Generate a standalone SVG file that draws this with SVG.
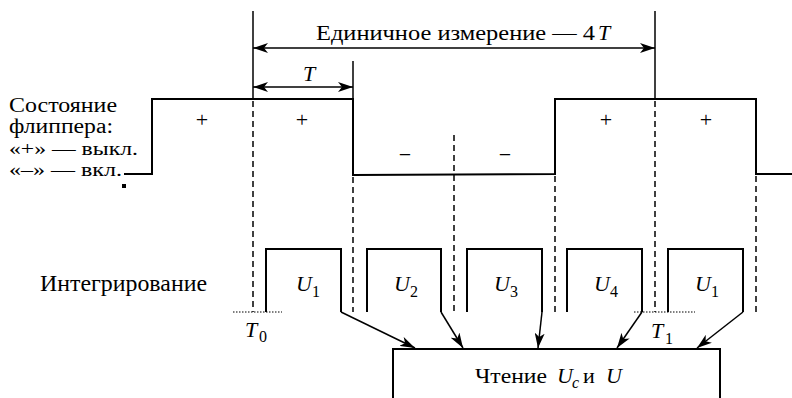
<svg xmlns="http://www.w3.org/2000/svg" width="792" height="398" viewBox="0 0 792 398">
  <style>
    text { font-family: "Liberation Serif", "Times New Roman", serif; fill: #000; }
    .it { font-style: italic; }
    .wave { fill: none; stroke: #000; stroke-width: 2; }
    .solid { fill: none; stroke: #000; stroke-width: 1.5; }
    .dash { fill: none; stroke: #000; stroke-width: 1.5; stroke-dasharray: 6 4; }
    .dot { fill: none; stroke: #000; stroke-width: 1.2; stroke-dasharray: 1.5 1.5; }
    .pulse { fill: none; stroke: #000; stroke-width: 2; }
    .conn { fill: none; stroke: #000; stroke-width: 1.5; }
  </style>
  <defs>
    <marker id="ah" viewBox="0 0 15 10" refX="15" refY="5" markerWidth="15" markerHeight="10" markerUnits="userSpaceOnUse" orient="auto-start-reverse">
      <path d="M0,0 L15,5 L0,10 L4,5 Z" fill="#000"/>
    </marker>
  </defs>
  <rect width="792" height="398" fill="#fff"/>

  <!-- flipper state waveform -->
  <g id="flipper">
    <polyline class="wave" points="124,174 152,174 152,99 353,99 353,175 555,174 555,99 756,99 756,174 792,174"/>
    <text x="202" y="127" font-size="22" text-anchor="middle">+</text>
    <text x="302" y="127" font-size="22" text-anchor="middle">+</text>
    <text x="405" y="162" font-size="22" text-anchor="middle">−</text>
    <text x="505" y="162" font-size="22" text-anchor="middle">−</text>
    <text x="606" y="127" font-size="22" text-anchor="middle">+</text>
    <text x="706" y="127" font-size="22" text-anchor="middle">+</text>
  </g>

  <g id="flipper-label">
    <text x="9" y="112" font-size="20" textLength="108" lengthAdjust="spacingAndGlyphs">Состояние</text>
    <text x="9" y="133" font-size="20" textLength="104" lengthAdjust="spacingAndGlyphs">флиппера:</text>
    <text x="9" y="155" font-size="19" textLength="129" lengthAdjust="spacingAndGlyphs">«+» — выкл.</text>
    <text x="9" y="176" font-size="19" textLength="113" lengthAdjust="spacingAndGlyphs">«–» — вкл.</text>
    <rect x="122" y="184" width="4" height="4" fill="#000"/>
  </g>

  <!-- time markers -->
  <g id="markers">
    <line class="solid" x1="253" y1="11" x2="253" y2="99"/>
    <line class="solid" x1="353" y1="61" x2="353" y2="99"/>
    <line class="solid" x1="655" y1="11" x2="655" y2="99"/>
    <line class="dash" x1="253" y1="101" x2="253" y2="312"/>
    <line class="dash" x1="353" y1="177" x2="353" y2="312"/>
    <line class="dash" x1="454" y1="135" x2="454" y2="312"/>
    <line class="dash" x1="555" y1="176" x2="555" y2="312"/>
    <line class="dash" x1="655" y1="101" x2="655" y2="312"/>
    <line class="dash" x1="756" y1="176" x2="756" y2="312"/>
  </g>

  <g id="dimensions">
    <line class="solid" x1="253" y1="48" x2="655" y2="48" marker-start="url(#ah)" marker-end="url(#ah)"/>
    <text x="316" y="40" font-size="22" textLength="279" lengthAdjust="spacingAndGlyphs">Единичное измерение — 4</text>
    <text class="it" x="598" y="40" font-size="22">T</text>
    <line class="solid" x1="253" y1="87" x2="353" y2="87" marker-start="url(#ah)" marker-end="url(#ah)"/>
    <text class="it" x="309" y="81" font-size="22" text-anchor="middle">T</text>
  </g>

  <!-- integration pulses -->
  <g id="integration-label">
    <text x="40" y="291" font-size="23" textLength="167" lengthAdjust="spacingAndGlyphs">Интегрирование</text>
  </g>
  <g id="u1a">
    <polyline class="pulse" points="266,312 266,249 341,249 341,312"/>
    <text class="it" x="296" y="291" font-size="22">U</text>
    <text x="312" y="297" font-size="16">1</text>
  </g>
  <g id="u2">
    <polyline class="pulse" points="367,312 367,249 441,249 441,312"/>
    <text class="it" x="394" y="291" font-size="22">U</text>
    <text x="410" y="297" font-size="16">2</text>
  </g>
  <g id="u3">
    <polyline class="pulse" points="467,312 467,249 542,249 542,312"/>
    <text class="it" x="494" y="291" font-size="22">U</text>
    <text x="510" y="297" font-size="16">3</text>
  </g>
  <g id="u4">
    <polyline class="pulse" points="567,312 567,249 642,249 642,312"/>
    <text class="it" x="594" y="291" font-size="22">U</text>
    <text x="610" y="297" font-size="16">4</text>
  </g>
  <g id="u1b">
    <polyline class="pulse" points="668,312 668,249 743,249 743,312"/>
    <text class="it" x="695" y="291" font-size="22">U</text>
    <text x="711" y="297" font-size="16">1</text>
  </g>

  <g id="t0">
    <line class="dot" x1="233" y1="312" x2="282" y2="312"/>
    <text class="it" x="245" y="337" font-size="22">T</text>
    <text x="259" y="342" font-size="16">0</text>
  </g>
  <g id="t1">
    <line class="dot" x1="634" y1="312" x2="695" y2="312"/>
    <text class="it" x="651" y="338" font-size="22">T</text>
    <text x="665" y="344" font-size="16">1</text>
  </g>

  <!-- reading block -->
  <g id="reading">
    <polyline class="wave" points="393,398 393,349 720,349 720,398"/>
    <text x="475" y="383" font-size="22" textLength="72" lengthAdjust="spacingAndGlyphs">Чтение</text>
    <text class="it" x="557" y="383" font-size="22">U</text>
    <text class="it" x="572" y="388" font-size="16">c</text>
    <text x="583" y="383" font-size="22">и</text>
    <text class="it" x="606" y="383" font-size="22">U</text>
  </g>

  <g id="connectors">
    <line class="conn" x1="341" y1="312" x2="415" y2="348" marker-end="url(#ah)"/>
    <line class="conn" x1="441" y1="312" x2="463" y2="348" marker-end="url(#ah)"/>
    <line class="conn" x1="542" y1="312" x2="538" y2="348" marker-end="url(#ah)"/>
    <line class="conn" x1="642" y1="312" x2="617" y2="348" marker-end="url(#ah)"/>
    <line class="conn" x1="743" y1="312" x2="697" y2="348" marker-end="url(#ah)"/>
  </g>
</svg>
